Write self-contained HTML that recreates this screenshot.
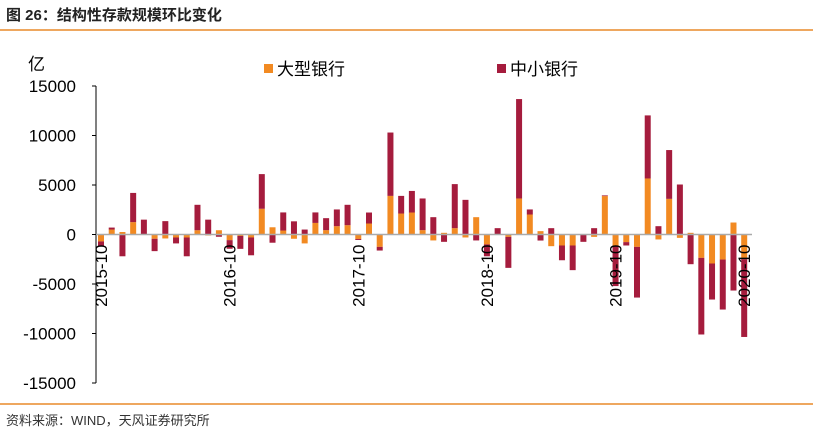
<!DOCTYPE html>
<html><head><meta charset="utf-8">
<style>
body{margin:0;background:#fff;width:813px;height:436px;overflow:hidden;font-family:"Liberation Sans","Noto Sans CJK SC",sans-serif;}
svg text{font-family:"Liberation Sans","Noto Sans CJK SC",sans-serif;}
</style></head>
<body>
<svg id="chart" width="813" height="436" xmlns="http://www.w3.org/2000/svg">
<text x="6" y="20" font-size="15" font-weight="bold" fill="#222">图 26：结构性存款规模环比变化</text>
<line x1="0" y1="30" x2="813" y2="30" stroke="#E98A2A" stroke-width="1.5"/>
<line x1="0" y1="404" x2="813" y2="404" stroke="#E98A2A" stroke-width="1.5"/>
<text x="6" y="425" font-size="13" fill="#333">资料来源：WIND，天风证券研究所</text>
<text x="28" y="70" font-size="17" fill="#000">亿</text>
<rect x="264" y="64" width="9" height="9" fill="#F28A22"/>
<text x="277" y="75" font-size="17" fill="#000">大型银行</text>
<rect x="497" y="64" width="9" height="9" fill="#A51C3D"/>
<text x="510" y="75" font-size="17" fill="#000">中小银行</text>
<g id="plot"></g>
</svg>
<script>
const categories = [];
for (let y = 2015, m = 10; categories.length < 61; ) { categories.push(y + '-' + (m < 10 ? '0' + m : m)); m++; if (m > 12) { m = 1; y++; } }
const largeBanks = [-700,500,250,1250,50,-430,-400,-300,-300,430,-100,430,-570,-150,-300,2600,730,400,-430,-900,1170,440,840,940,-450,1110,-1250,3900,2120,2220,440,-600,170,640,-300,1750,-1000,0,-240,3640,2020,340,-1180,-1110,-1110,0,-240,3880,-1110,-770,-1250,5660,-500,3600,-340,170,-2360,-2930,-2530,1210,-2500];
const smallBanks = [-500,200,-2200,2950,1450,-1250,1350,-600,-1900,2570,1500,-230,-870,-1300,-1800,3500,-830,1830,1330,500,1060,1210,1690,2060,-100,1110,-370,6400,1780,2180,3200,1750,-740,4450,3500,-600,-1200,640,-3130,10040,510,-610,640,-1490,-2490,-740,640,70,-4100,-340,-5120,6370,840,4930,5050,-3000,-7740,-3640,-5050,-5660,-7850];
const yTicks = [15000,10000,5000,0,-5000,-10000,-15000];
const xLabels = ['2015-10','2016-10','2017-10','2018-10','2019-10','2020-10'];

const NS = 'http://www.w3.org/2000/svg';
const g = document.getElementById('plot');
const y = v => 234.5 - v * 297 / 30000;
const x = i => 101 + i * 10.72;
const bw = 6;
function el(tag, attrs) { const e = document.createElementNS(NS, tag); for (const k in attrs) e.setAttribute(k, attrs[k]); g.appendChild(e); return e; }

yTicks.forEach(t => {
  const tx = el('text', {x: 76, y: y(t) + 6, 'font-size': 17, 'text-anchor': 'end', fill: '#000'});
  tx.textContent = t;
  
  
  const tk = el('line', {x1: 92, x2: 96, y1: y(t), y2: y(t), stroke: '#000'});
  
  
});
const ax = el('line', {x1: 96, x2: 96, y1: y(15000), y2: y(-15000), stroke: '#000', 'stroke-width': 1});



categories.forEach((c, i) => {
  let pos = 0, neg = 0;
  [[largeBanks[i], '#F28A22', 'bar-large-banks'], [smallBanks[i], '#A51C3D', 'bar-small-banks']].forEach(([v, col, nm]) => {
    let y0, y1;
    if (v >= 0) { y0 = y(pos + v); y1 = y(pos); pos += v; } else { y0 = y(neg); y1 = y(neg + v); neg += v; }
    const r = el('rect', {x: x(i) - bw / 2, y: y0, width: bw, height: Math.max(0, y1 - y0), fill: col});
    
    
  });
});

const zl = el('line', {x1: 96, x2: 752, y1: y(0), y2: y(0), stroke: '#aaa', 'stroke-width': 1.5});



xLabels.forEach(lbl => {
  const i = categories.indexOf(lbl);
  const tx = el('text', {x: 0, y: 0, 'font-size': 17, 'text-anchor': 'end', fill: '#000', transform: `translate(${x(i) + 6},${y(0) + 10}) rotate(-90)`});
  tx.textContent = lbl;
  
  
});
</script>
</body></html>
